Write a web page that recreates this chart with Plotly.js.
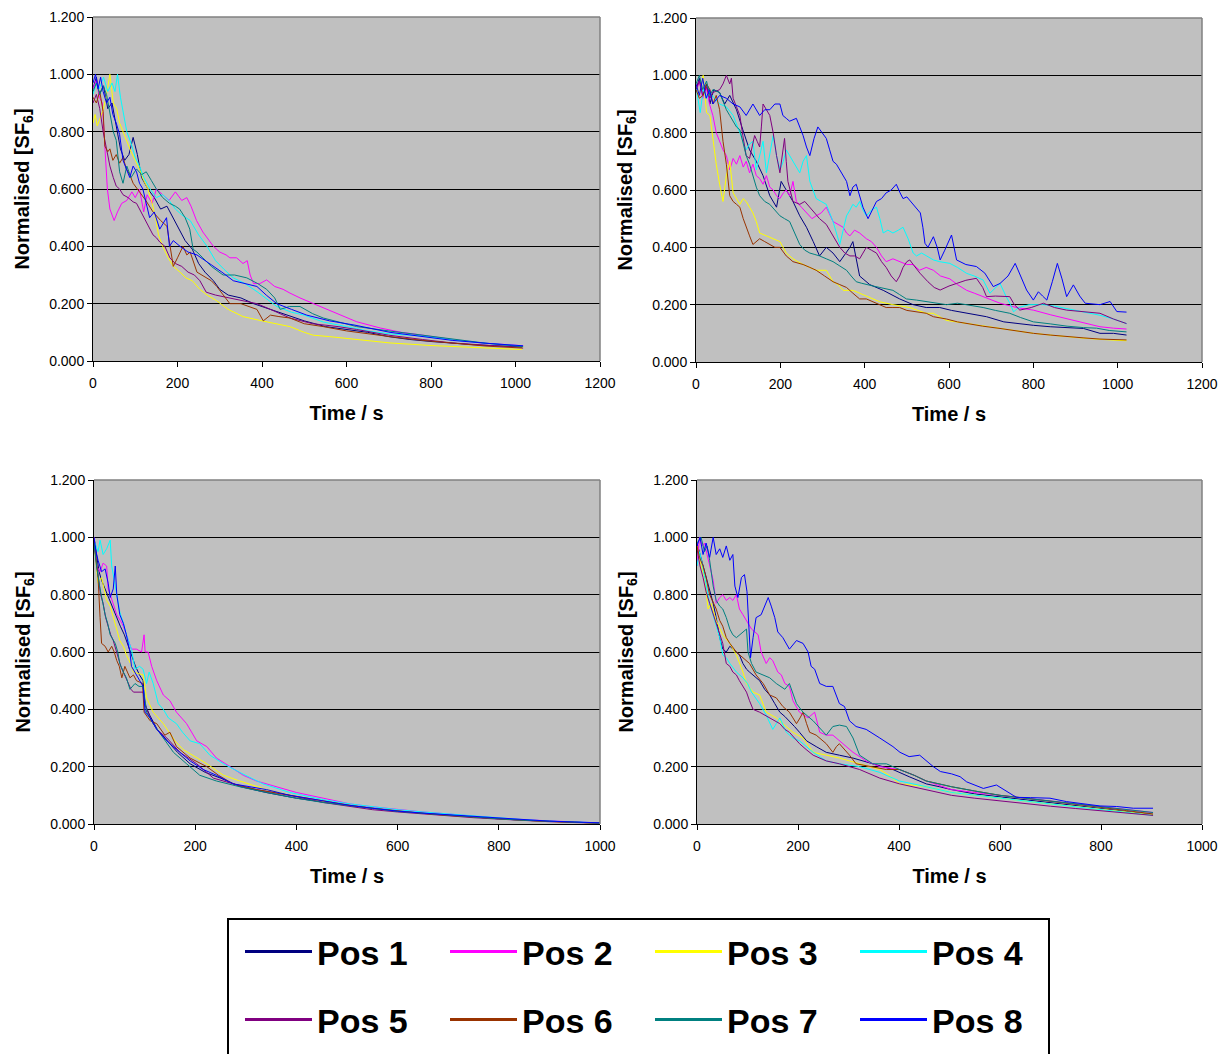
<!DOCTYPE html>
<html>
<head>
<meta charset="utf-8">
<script src="https://cdn.plot.ly/plotly-3.0.1.min.js"></script>
<style>html,body{margin:0;padding:0;background:#fff;}#chart{width:1229px;height:1054px;}</style>
</head>
<body>
<div id="chart"></div>
<script>
// ---------- Series labels and colours ----------
const seriesNames = ['Pos 1','Pos 2','Pos 3','Pos 4','Pos 5','Pos 6','Pos 7','Pos 8'];
const seriesColors = ['#000080','#FF00FF','#FFFF00','#00FFFF','#800080','#993300','#008080','#0000FF'];

// ---------- Axis tick values ----------
const yTicks = [0, 0.2, 0.4, 0.6, 0.8, 1.0, 1.2];
const xTicksTop = [0, 200, 400, 600, 800, 1000, 1200];
const xTicksBottom = [0, 200, 400, 600, 800, 1000];

// ---------- Top-left panel: [time s, normalised SF6] ----------
const TL1 = [[0,0.95],[8,0.99],[15,0.93],[25,0.96],[35,0.88],[45,0.9],[55,0.82],[65,0.74],[75,0.7],[85,0.72],[95,0.78],[105,0.72],[115,0.64],[130,0.6],[145,0.57],[160,0.53],[175,0.54],[190,0.5],[205,0.46],[218,0.42],[235,0.39],[250,0.34],[265,0.31],[285,0.28],[300,0.25],[320,0.23],[350,0.22],[380,0.2],[420,0.18],[460,0.16],[500,0.14],[550,0.12],[600,0.11],[650,0.1],[700,0.085],[750,0.075],[800,0.068],[850,0.062],[900,0.057],[950,0.053],[1015,0.05]];
const TL2 = [[0,0.95],[8,0.98],[15,0.92],[22,0.9],[28,0.75],[34,0.6],[40,0.53],[50,0.49],[58,0.52],[68,0.55],[80,0.56],[92,0.59],[100,0.57],[110,0.6],[120,0.52],[128,0.58],[140,0.55],[150,0.6],[165,0.58],[180,0.56],[195,0.59],[210,0.56],[222,0.57],[232,0.54],[245,0.49],[260,0.45],[275,0.42],[285,0.4],[300,0.38],[315,0.37],[324,0.36],[340,0.36],[355,0.34],[365,0.35],[372,0.3],[380,0.27],[395,0.27],[411,0.283],[430,0.26],[450,0.25],[466,0.237],[490,0.22],[530,0.195],[580,0.165],[624,0.137],[680,0.115],[730,0.1],[781,0.09],[850,0.075],[920,0.063],[970,0.057],[1018,0.053]];
const TL3 = [[0,0.83],[5,0.86],[10,0.82],[18,0.85],[25,0.88],[32,0.93],[40,1.0],[48,0.9],[56,0.88],[63,0.83],[71,0.8],[80,0.77],[90,0.73],[100,0.7],[110,0.67],[120,0.63],[130,0.6],[140,0.55],[148,0.5],[155,0.44],[165,0.4],[178,0.36],[190,0.33],[206,0.31],[220,0.29],[235,0.28],[253,0.25],[270,0.23],[293,0.21],[320,0.18],[355,0.155],[400,0.14],[430,0.13],[466,0.12],[500,0.1],[521,0.09],[560,0.085],[620,0.075],[703,0.063],[800,0.054],[870,0.049],[940,0.045],[1015,0.04]];
const TL4 = [[0,0.93],[8,0.97],[15,0.95],[25,0.99],[35,0.94],[45,0.97],[52,0.94],[58,1.0],[65,0.92],[72,0.86],[80,0.8],[90,0.76],[100,0.71],[110,0.68],[120,0.64],[135,0.6],[150,0.57],[165,0.58],[180,0.56],[195,0.53],[210,0.51],[230,0.49],[250,0.44],[270,0.4],[290,0.35],[310,0.32],[332,0.29],[360,0.27],[390,0.24],[435,0.19],[470,0.17],[500,0.16],[545,0.136],[600,0.12],[650,0.105],[700,0.095],[781,0.087],[850,0.074],[930,0.062],[1015,0.052]];
const TL5 = [[0,0.9],[8,0.93],[16,0.88],[24,0.8],[32,0.74],[40,0.68],[48,0.64],[55,0.61],[63,0.6],[71,0.58],[83,0.57],[95,0.555],[103,0.55],[110,0.53],[118,0.51],[126,0.485],[134,0.46],[142,0.44],[150,0.43],[158,0.415],[170,0.4],[182,0.36],[195,0.34],[210,0.33],[225,0.31],[240,0.3],[253,0.28],[268,0.24],[290,0.23],[324,0.22],[360,0.21],[388,0.2],[420,0.18],[466,0.15],[520,0.13],[580,0.12],[624,0.11],[700,0.09],[780,0.075],[850,0.063],[930,0.055],[1015,0.048]];
const TL6 = [[0,0.92],[8,0.9],[16,0.94],[24,0.87],[28,0.75],[35,0.73],[40,0.74],[47,0.7],[55,0.72],[63,0.69],[71,0.71],[79,0.67],[87,0.65],[95,0.62],[105,0.6],[115,0.58],[125,0.56],[142,0.52],[160,0.49],[175,0.47],[183,0.4],[190,0.33],[200,0.36],[213,0.4],[222,0.37],[230,0.38],[246,0.31],[258,0.3],[268,0.29],[280,0.28],[293,0.26],[308,0.23],[324,0.2],[350,0.2],[370,0.19],[388,0.18],[403,0.14],[420,0.16],[440,0.155],[466,0.15],[500,0.13],[545,0.12],[600,0.105],[650,0.095],[703,0.085],[780,0.072],[850,0.062],[930,0.052],[1018,0.045]];
const TL7 = [[0,0.94],[8,0.97],[16,0.93],[24,0.96],[32,0.93],[40,0.86],[48,0.8],[55,0.77],[63,0.66],[71,0.62],[80,0.68],[90,0.64],[103,0.67],[115,0.65],[126,0.66],[138,0.63],[150,0.6],[165,0.57],[181,0.55],[195,0.54],[205,0.53],[218,0.5],[229,0.46],[237,0.39],[246,0.38],[260,0.36],[280,0.33],[308,0.3],[335,0.3],[364,0.29],[390,0.27],[411,0.25],[430,0.22],[443,0.18],[465,0.19],[490,0.19],[520,0.165],[545,0.15],[585,0.135],[624,0.12],[700,0.105],[781,0.09],[850,0.075],[930,0.062],[1018,0.05]];
const TL8 = [[0,0.97],[6,1.0],[12,0.95],[18,0.99],[24,0.94],[32,0.9],[40,0.92],[47,0.86],[55,0.83],[63,0.79],[71,0.7],[79,0.67],[87,0.64],[95,0.68],[103,0.66],[110,0.62],[118,0.6],[126,0.55],[134,0.5],[145,0.52],[158,0.46],[166,0.48],[174,0.5],[181,0.4],[190,0.42],[206,0.4],[225,0.38],[246,0.37],[276,0.34],[305,0.31],[332,0.28],[360,0.27],[388,0.26],[410,0.23],[435,0.2],[470,0.18],[506,0.16],[560,0.14],[620,0.125],[703,0.1],[780,0.085],[850,0.072],[930,0.062],[1018,0.053]];

// ---------- Top-right panel ----------
const TR1 = [[0,0.95],[8,0.99],[16,0.93],[25,0.97],[33,0.9],[42,0.95],[56,0.94],[68,0.9],[80,0.93],[96,0.88],[111,0.81],[127,0.74],[143,0.7],[159,0.65],[175,0.58],[191,0.54],[202,0.63],[214,0.6],[230,0.56],[246,0.51],[262,0.47],[278,0.42],[293,0.37],[309,0.4],[325,0.38],[341,0.35],[355,0.38],[365,0.4],[372,0.42],[380,0.36],[388,0.3],[412,0.27],[444,0.25],[483,0.22],[515,0.2],[546,0.19],[578,0.19],[606,0.18],[642,0.17],[689,0.158],[730,0.14],[760,0.134],[800,0.128],[840,0.123],[880,0.12],[919,0.117],[958,0.1],[990,0.1],[1021,0.094]];
const TR2 = [[0,0.94],[8,0.98],[16,0.92],[24,0.96],[32,0.9],[40,0.86],[48,0.8],[56,0.77],[64,0.74],[72,0.72],[80,0.67],[88,0.71],[96,0.69],[104,0.72],[112,0.68],[119,0.7],[127,0.66],[135,0.69],[143,0.65],[151,0.64],[159,0.62],[167,0.65],[175,0.61],[183,0.6],[191,0.58],[199,0.57],[207,0.59],[214,0.6],[222,0.58],[230,0.63],[238,0.56],[250,0.54],[262,0.52],[275,0.5],[285,0.51],[297,0.52],[309,0.54],[318,0.51],[325,0.49],[337,0.48],[349,0.47],[357,0.45],[365,0.44],[376,0.46],[388,0.45],[396,0.44],[404,0.43],[416,0.42],[428,0.4],[440,0.37],[451,0.35],[467,0.36],[483,0.35],[500,0.34],[515,0.34],[530,0.32],[546,0.33],[563,0.32],[580,0.3],[602,0.29],[620,0.27],[642,0.25],[660,0.24],[681,0.228],[700,0.215],[721,0.205],[760,0.19],[800,0.181],[840,0.165],[879,0.152],[920,0.138],[958,0.123],[990,0.118],[1021,0.115]];
const TR3 = [[0,0.97],[8,0.93],[17,1.0],[25,0.87],[33,0.86],[40,0.77],[48,0.69],[56,0.62],[64,0.56],[72,0.65],[80,0.7],[88,0.59],[96,0.57],[104,0.55],[112,0.57],[119,0.56],[127,0.54],[135,0.52],[143,0.49],[151,0.45],[167,0.44],[183,0.43],[199,0.42],[214,0.38],[230,0.36],[254,0.34],[270,0.33],[285,0.32],[309,0.32],[325,0.28],[337,0.27],[349,0.25],[372,0.25],[388,0.24],[404,0.23],[436,0.21],[467,0.2],[507,0.19],[546,0.17],[563,0.17],[594,0.145],[642,0.134],[680,0.125],[721,0.117],[760,0.108],[800,0.1],[840,0.094],[879,0.088],[920,0.083],[958,0.079],[990,0.076],[1021,0.074]];
const TR4 = [[0,0.96],[5,0.92],[10,0.87],[17,0.95],[25,0.92],[32,0.94],[44,0.92],[56,0.9],[72,0.89],[88,0.86],[104,0.8],[119,0.74],[127,0.76],[135,0.77],[143,0.67],[151,0.72],[159,0.77],[167,0.66],[175,0.72],[183,0.79],[191,0.72],[199,0.67],[207,0.7],[214,0.74],[222,0.72],[230,0.7],[238,0.68],[246,0.66],[254,0.7],[262,0.72],[270,0.63],[278,0.6],[285,0.57],[297,0.56],[309,0.55],[317,0.52],[325,0.49],[333,0.45],[341,0.41],[349,0.46],[357,0.51],[365,0.53],[372,0.55],[380,0.54],[388,0.56],[396,0.53],[404,0.51],[416,0.53],[428,0.54],[436,0.5],[444,0.45],[455,0.46],[467,0.45],[480,0.46],[491,0.47],[503,0.43],[515,0.38],[523,0.37],[535,0.38],[547,0.37],[563,0.356],[578,0.35],[602,0.344],[620,0.33],[642,0.309],[660,0.3],[681,0.286],[697,0.24],[710,0.26],[721,0.274],[735,0.23],[746,0.2],[753,0.175],[765,0.19],[790,0.2],[824,0.2],[850,0.195],[879,0.187],[920,0.175],[958,0.163],[990,0.15],[1021,0.134]];
const TR5 = [[0,0.95],[8,0.98],[16,0.93],[25,0.96],[33,0.92],[40,0.94],[56,0.95],[64,0.97],[72,1.0],[80,0.97],[84,0.99],[88,0.92],[96,0.89],[104,0.86],[111,0.79],[119,0.72],[127,0.71],[133,0.75],[139,0.79],[145,0.77],[151,0.75],[155,0.82],[159,0.9],[167,0.88],[175,0.86],[183,0.8],[191,0.72],[199,0.66],[205,0.72],[210,0.78],[214,0.7],[218,0.63],[230,0.56],[246,0.55],[258,0.56],[270,0.54],[282,0.52],[293,0.5],[309,0.48],[325,0.44],[333,0.42],[341,0.4],[353,0.38],[365,0.37],[376,0.37],[388,0.36],[396,0.38],[404,0.4],[416,0.39],[428,0.38],[440,0.35],[451,0.33],[463,0.3],[475,0.28],[483,0.3],[491,0.33],[500,0.35],[507,0.356],[515,0.34],[531,0.31],[550,0.28],[565,0.26],[579,0.251],[600,0.265],[618,0.274],[640,0.285],[665,0.292],[680,0.26],[689,0.228],[710,0.23],[744,0.228],[755,0.2],[768,0.181],[795,0.19],[824,0.205],[850,0.19],[879,0.181],[920,0.175],[958,0.17],[990,0.15],[1021,0.134]];
const TR6 = [[0,0.95],[8,0.92],[17,0.93],[25,0.97],[33,0.95],[40,0.9],[48,0.93],[56,0.88],[64,0.77],[72,0.69],[80,0.58],[88,0.56],[96,0.55],[104,0.54],[112,0.5],[119,0.47],[127,0.44],[135,0.41],[143,0.42],[151,0.43],[163,0.42],[175,0.41],[187,0.4],[199,0.4],[214,0.37],[230,0.35],[254,0.34],[270,0.33],[285,0.32],[305,0.3],[325,0.28],[341,0.27],[357,0.26],[372,0.24],[388,0.22],[404,0.22],[420,0.21],[436,0.2],[451,0.19],[467,0.19],[483,0.19],[500,0.18],[520,0.175],[546,0.17],[563,0.158],[594,0.15],[620,0.14],[642,0.134],[680,0.125],[721,0.117],[760,0.108],[800,0.1],[840,0.094],[879,0.088],[920,0.084],[958,0.08],[990,0.078],[1021,0.077]];
const TR7 = [[0,0.97],[8,1.0],[16,0.95],[25,0.98],[33,0.93],[40,0.95],[56,0.94],[64,0.91],[72,0.88],[80,0.86],[88,0.84],[96,0.82],[104,0.81],[111,0.77],[119,0.72],[127,0.69],[135,0.65],[143,0.61],[151,0.58],[163,0.56],[175,0.55],[187,0.53],[199,0.51],[210,0.5],[222,0.49],[234,0.45],[246,0.41],[258,0.39],[270,0.38],[282,0.375],[293,0.37],[309,0.36],[325,0.35],[341,0.335],[357,0.32],[368,0.3],[380,0.28],[392,0.275],[404,0.27],[420,0.265],[436,0.26],[451,0.255],[467,0.25],[483,0.235],[499,0.22],[523,0.216],[546,0.21],[570,0.205],[594,0.2],[620,0.205],[642,0.2],[660,0.195],[681,0.19],[710,0.18],[744,0.17],[770,0.155],[800,0.14],[840,0.133],[880,0.125],[919,0.12],[950,0.118],[980,0.11],[1021,0.105]];
const TR8 = [[0,0.97],[8,0.93],[16,0.99],[24,0.92],[32,0.95],[40,0.9],[56,0.93],[72,0.92],[88,0.9],[104,0.89],[119,0.86],[135,0.9],[151,0.86],[163,0.88],[175,0.88],[187,0.9],[199,0.9],[206,0.86],[214,0.85],[222,0.84],[238,0.85],[246,0.82],[254,0.79],[262,0.75],[270,0.72],[280,0.78],[289,0.82],[299,0.8],[309,0.78],[317,0.74],[325,0.7],[333,0.69],[341,0.67],[349,0.65],[357,0.63],[365,0.58],[372,0.61],[380,0.62],[388,0.58],[396,0.54],[408,0.5],[418,0.53],[428,0.56],[440,0.57],[451,0.59],[463,0.6],[475,0.62],[484,0.59],[491,0.57],[500,0.576],[515,0.55],[532,0.52],[538,0.47],[543,0.414],[550,0.4],[556,0.42],[563,0.437],[572,0.4],[579,0.356],[590,0.39],[600,0.42],[606,0.443],[612,0.4],[618,0.356],[640,0.34],[665,0.333],[685,0.31],[705,0.263],[721,0.274],[740,0.3],[757,0.344],[770,0.3],[784,0.251],[800,0.216],[812,0.245],[822,0.23],[832,0.216],[845,0.28],[857,0.344],[868,0.29],[879,0.228],[895,0.269],[910,0.23],[923,0.205],[958,0.2],[982,0.211],[998,0.176],[1021,0.174]];

// ---------- Bottom-left panel ----------
const BL1 = [[0,1.0],[5,0.93],[10,0.88],[15,0.85],[22,0.82],[30,0.78],[38,0.75],[45,0.72],[52,0.69],[60,0.66],[68,0.62],[75,0.58],[82,0.55],[90,0.52],[97,0.5],[100,0.42],[110,0.38],[125,0.33],[145,0.29],[165,0.25],[190,0.21],[220,0.18],[250,0.16],[290,0.13],[340,0.11],[400,0.09],[460,0.075],[500,0.065],[550,0.055],[600,0.045],[650,0.038],[700,0.03],[750,0.024],[800,0.018],[850,0.013],[900,0.009],[950,0.006],[1000,0.003]];
const BL2 = [[0,1.0],[3,0.95],[5,0.9],[12,0.88],[18,0.91],[25,0.9],[28,0.82],[32,0.8],[38,0.77],[45,0.73],[52,0.71],[58,0.69],[64,0.66],[70,0.63],[74,0.61],[84,0.61],[94,0.6],[99,0.66],[101,0.6],[107,0.6],[114,0.55],[124,0.5],[137,0.45],[150,0.43],[163,0.39],[183,0.35],[203,0.29],[223,0.27],[242,0.23],[269,0.2],[295,0.17],[321,0.15],[361,0.13],[400,0.11],[453,0.09],[506,0.07],[550,0.06],[600,0.05],[650,0.042],[700,0.035],[750,0.027],[800,0.02],[850,0.015],[900,0.01],[950,0.007],[1000,0.004]];
const BL3 = [[0,0.98],[4,0.9],[8,0.84],[15,0.86],[20,0.82],[25,0.78],[32,0.76],[42,0.7],[51,0.64],[58,0.62],[64,0.59],[72,0.56],[78,0.53],[88,0.525],[97,0.52],[104,0.44],[117,0.39],[137,0.35],[160,0.29],[176,0.26],[203,0.23],[223,0.21],[256,0.17],[288,0.15],[341,0.12],[400,0.095],[450,0.08],[506,0.065],[550,0.055],[600,0.045],[650,0.037],[700,0.03],[750,0.024],[800,0.018],[850,0.013],[900,0.009],[950,0.006],[1000,0.003]];
const BL4 = [[0,0.96],[2,0.98],[8,0.95],[12,0.99],[18,0.94],[25,0.96],[32,0.99],[35,0.9],[40,0.85],[45,0.8],[51,0.74],[58,0.7],[64,0.66],[74,0.61],[81,0.54],[90,0.55],[97,0.54],[104,0.49],[109,0.53],[117,0.49],[127,0.42],[137,0.4],[147,0.37],[163,0.35],[175,0.32],[190,0.29],[209,0.28],[229,0.24],[256,0.21],[288,0.18],[334,0.14],[387,0.11],[453,0.085],[506,0.07],[550,0.06],[600,0.05],[650,0.042],[700,0.035],[750,0.027],[800,0.02],[850,0.015],[900,0.01],[950,0.007],[1000,0.004]];
const BL5 = [[0,0.98],[4,0.92],[8,0.86],[13,0.8],[18,0.77],[23,0.72],[28,0.69],[33,0.66],[38,0.64],[43,0.61],[48,0.58],[53,0.55],[58,0.53],[63,0.51],[68,0.49],[73,0.47],[78,0.46],[91,0.46],[97,0.46],[104,0.4],[114,0.36],[124,0.33],[144,0.3],[170,0.25],[203,0.21],[236,0.16],[275,0.14],[321,0.12],[387,0.1],[453,0.075],[506,0.06],[550,0.05],[600,0.042],[650,0.035],[700,0.028],[750,0.022],[800,0.017],[850,0.012],[900,0.008],[950,0.005],[1000,0.003]];
const BL6 = [[0,0.99],[4,0.92],[8,0.86],[12,0.72],[15,0.63],[22,0.62],[28,0.6],[35,0.62],[40,0.6],[45,0.57],[50,0.55],[55,0.51],[61,0.55],[66,0.53],[71,0.51],[78,0.52],[84,0.5],[90,0.495],[96,0.49],[99,0.39],[111,0.36],[124,0.35],[140,0.31],[150,0.32],[163,0.27],[190,0.23],[223,0.2],[246,0.17],[275,0.14],[321,0.12],[387,0.1],[453,0.08],[506,0.065],[550,0.055],[600,0.045],[650,0.037],[700,0.03],[750,0.024],[800,0.018],[850,0.013],[900,0.009],[950,0.006],[1000,0.003]];
const BL7 = [[0,0.98],[5,0.9],[12,0.82],[18,0.76],[22,0.73],[27,0.7],[32,0.66],[37,0.645],[42,0.63],[47,0.6],[51,0.56],[58,0.53],[64,0.51],[71,0.47],[81,0.49],[89,0.48],[97,0.48],[104,0.39],[117,0.35],[137,0.3],[157,0.25],[183,0.21],[209,0.17],[242,0.15],[288,0.13],[341,0.11],[400,0.09],[453,0.075],[506,0.065],[550,0.055],[600,0.044],[650,0.037],[700,0.03],[750,0.024],[800,0.018],[850,0.013],[900,0.009],[950,0.006],[1000,0.003]];
const BL8 = [[0,1.0],[4,0.95],[8,0.92],[15,0.88],[22,0.89],[28,0.84],[32,0.79],[38,0.82],[42,0.9],[45,0.8],[51,0.73],[58,0.7],[64,0.66],[71,0.6],[74,0.55],[84,0.52],[97,0.48],[101,0.39],[111,0.37],[124,0.33],[144,0.29],[163,0.26],[190,0.22],[216,0.19],[242,0.17],[275,0.14],[341,0.12],[387,0.1],[453,0.08],[506,0.065],[550,0.055],[600,0.045],[650,0.038],[700,0.032],[750,0.026],[800,0.02],[850,0.015],[900,0.01],[950,0.007],[1000,0.004]];

// ---------- Bottom-right panel ----------
const BR1 = [[0,0.98],[6,0.94],[12,0.9],[18,0.86],[25,0.82],[32,0.77],[38,0.72],[45,0.65],[51,0.61],[58,0.6],[65,0.62],[71,0.61],[78,0.6],[84,0.59],[91,0.56],[98,0.54],[104,0.53],[111,0.52],[124,0.5],[134,0.47],[144,0.45],[154,0.42],[164,0.39],[174,0.375],[183,0.36],[193,0.34],[203,0.32],[217,0.29],[236,0.27],[256,0.25],[282,0.24],[309,0.23],[348,0.21],[388,0.19],[420,0.165],[454,0.14],[480,0.13],[504,0.12],[550,0.105],[600,0.095],[650,0.085],[700,0.075],[750,0.065],[800,0.055],[850,0.045],[903,0.033]];
const BR2 = [[0,0.9],[5,1.0],[10,0.97],[15,0.98],[20,0.94],[25,0.9],[32,0.85],[38,0.77],[45,0.79],[51,0.8],[58,0.78],[65,0.79],[71,0.78],[78,0.8],[84,0.75],[91,0.73],[98,0.71],[108,0.68],[121,0.66],[127,0.6],[137,0.56],[144,0.58],[150,0.57],[160,0.53],[167,0.52],[174,0.49],[183,0.48],[190,0.43],[203,0.39],[212,0.38],[220,0.37],[233,0.39],[243,0.32],[256,0.31],[269,0.31],[289,0.28],[309,0.25],[335,0.22],[362,0.2],[401,0.19],[430,0.17],[454,0.15],[480,0.135],[504,0.12],[550,0.11],[600,0.1],[650,0.09],[700,0.08],[750,0.07],[800,0.06],[850,0.05],[903,0.04]];
const BR3 = [[0,0.97],[5,0.92],[10,0.89],[15,0.86],[22,0.75],[28,0.77],[38,0.71],[51,0.66],[65,0.63],[78,0.59],[91,0.53],[98,0.49],[111,0.46],[124,0.45],[137,0.39],[157,0.37],[170,0.35],[190,0.32],[210,0.3],[230,0.25],[256,0.24],[282,0.23],[322,0.21],[362,0.19],[380,0.17],[401,0.14],[430,0.135],[454,0.13],[504,0.11],[550,0.1],[600,0.09],[650,0.08],[700,0.07],[750,0.061],[800,0.052],[850,0.042],[903,0.032]];
const BR4 = [[0,0.9],[5,0.95],[10,0.91],[15,0.86],[20,0.81],[25,0.77],[35,0.71],[45,0.65],[51,0.59],[58,0.58],[65,0.56],[78,0.53],[91,0.51],[100,0.49],[108,0.46],[116,0.44],[124,0.42],[137,0.38],[150,0.33],[157,0.35],[164,0.37],[177,0.32],[190,0.3],[203,0.29],[216,0.27],[230,0.25],[256,0.22],[282,0.21],[322,0.2],[362,0.18],[401,0.15],[430,0.14],[454,0.13],[504,0.11],[550,0.1],[600,0.09],[650,0.08],[700,0.07],[750,0.06],[800,0.05],[850,0.04],[903,0.03]];
const BR5 = [[0,0.96],[6,0.9],[12,0.86],[18,0.81],[25,0.77],[32,0.73],[38,0.7],[45,0.66],[51,0.63],[58,0.56],[65,0.55],[71,0.53],[78,0.52],[84,0.5],[91,0.48],[98,0.46],[104,0.43],[111,0.4],[124,0.39],[134,0.38],[144,0.37],[154,0.36],[164,0.35],[174,0.33],[183,0.32],[193,0.3],[203,0.28],[216,0.26],[230,0.24],[256,0.22],[282,0.21],[322,0.19],[362,0.16],[401,0.14],[454,0.12],[504,0.1],[550,0.09],[600,0.08],[650,0.071],[700,0.062],[750,0.054],[800,0.047],[850,0.038],[903,0.03]];
const BR6 = [[0,0.97],[5,0.93],[12,0.9],[18,0.86],[25,0.8],[32,0.77],[38,0.75],[45,0.71],[51,0.69],[58,0.65],[65,0.63],[78,0.6],[91,0.58],[104,0.56],[117,0.52],[131,0.49],[144,0.45],[157,0.44],[170,0.41],[183,0.39],[190,0.37],[197,0.35],[204,0.37],[210,0.39],[217,0.35],[223,0.32],[236,0.31],[256,0.28],[269,0.25],[276,0.27],[282,0.28],[292,0.26],[302,0.24],[315,0.21],[342,0.2],[375,0.19],[401,0.19],[430,0.17],[454,0.15],[480,0.14],[504,0.13],[550,0.115],[600,0.1],[650,0.09],[700,0.08],[750,0.07],[800,0.058],[850,0.047],[903,0.035]];
const BR7 = [[0,0.98],[8,1.0],[15,0.95],[20,0.97],[25,0.92],[32,0.83],[38,0.78],[45,0.76],[51,0.75],[58,0.72],[65,0.68],[71,0.66],[78,0.65],[84,0.66],[91,0.67],[98,0.68],[101,0.6],[108,0.56],[117,0.53],[131,0.52],[144,0.51],[157,0.49],[174,0.47],[183,0.49],[197,0.42],[210,0.39],[230,0.36],[256,0.31],[269,0.34],[282,0.345],[296,0.34],[309,0.3],[322,0.24],[348,0.21],[375,0.21],[401,0.19],[430,0.17],[454,0.15],[480,0.14],[504,0.13],[550,0.115],[600,0.1],[650,0.09],[700,0.08],[750,0.07],[800,0.06],[850,0.05],[903,0.04]];
const BR8 = [[0,0.97],[6,1.0],[12,0.94],[18,0.98],[25,0.93],[32,1.0],[38,0.94],[45,0.96],[51,0.93],[58,0.97],[65,0.92],[71,0.94],[75,0.83],[81,0.79],[88,0.86],[94,0.87],[99,0.81],[103,0.67],[106,0.58],[111,0.65],[117,0.72],[127,0.73],[134,0.76],[141,0.79],[147,0.76],[154,0.72],[160,0.67],[170,0.65],[183,0.61],[197,0.64],[210,0.63],[220,0.6],[226,0.55],[233,0.54],[243,0.49],[256,0.48],[269,0.48],[282,0.42],[292,0.41],[302,0.36],[315,0.34],[335,0.33],[362,0.3],[388,0.27],[402,0.25],[420,0.235],[441,0.24],[468,0.2],[482,0.183],[504,0.175],[521,0.165],[534,0.147],[567,0.124],[593,0.136],[626,0.1],[633,0.093],[660,0.092],[699,0.09],[732,0.078],[765,0.07],[798,0.063],[831,0.061],[864,0.055],[903,0.055]];

// ---------- Build ----------
const panels = [
  {xa:'x',  ya:'y',  series:[TL1,TL2,TL3,TL4,TL5,TL6,TL7,TL8]},
  {xa:'x2', ya:'y2', series:[TR1,TR2,TR3,TR4,TR5,TR6,TR7,TR8]},
  {xa:'x3', ya:'y3', series:[BL1,BL2,BL3,BL4,BL5,BL6,BL7,BL8]},
  {xa:'x4', ya:'y4', series:[BR1,BR2,BR3,BR4,BR5,BR6,BR7,BR8]}
];

const traces = [];
panels.forEach(p => {
  p.series.forEach((s, i) => {
    traces.push({
      type:'scatter', mode:'lines', xaxis:p.xa, yaxis:p.ya,
      x: s.map(d => d[0]), y: s.map(d => d[1]),
      name: seriesNames[i], showlegend:false, hoverinfo:'skip',
      line:{color:seriesColors[i], width:1}
    });
  });
});
// legend entries (two rows, as in the original key)
seriesNames.forEach((n, i) => {
  traces.push({
    type:'scatter', mode:'lines', xaxis:'x', yaxis:'y', x:[null], y:[null],
    name:'<b>' + n + '</b>', showlegend:true, legend: i < 4 ? 'legend' : 'legend2',
    line:{color:seriesColors[i], width:3}
  });
});

const FONT = 'Arial, "Liberation Sans", sans-serif';
const W = 1229, H = 1054;
function xd(a,b){return [a/W, b/W];}
function yd(top,bottom){return [1-bottom/H, 1-top/H];}

function yAxis(dom, anchor){
  return {domain:dom, anchor:anchor, range:[0,1.2], tickvals:yTicks, tickformat:'.3f',
    showgrid:true, gridcolor:'#000000', gridwidth:1, zeroline:false,
    showline:true, linecolor:'#000000', linewidth:1, ticks:'outside', ticklen:5, tickcolor:'#000000',
    tickfont:{family:FONT, size:14, color:'#000'},
    title:{text:'<b>Normalised [SF<sub>6</sub>]</b>', font:{family:FONT, size:20, color:'#000'}, standoff:14},
    automargin:false, fixedrange:true};
}
function xAxis(dom, anchor, max, ticks){
  return {domain:dom, anchor:anchor, range:[0,max], tickvals:ticks,
    showgrid:false, zeroline:false,
    showline:true, linecolor:'#000000', linewidth:1, ticks:'outside', ticklen:5, tickcolor:'#000000',
    ticklabelstandoff:4,
    tickfont:{family:FONT, size:14, color:'#000'},
    title:{text:'<b>Time / s</b>', font:{family:FONT, size:20, color:'#000'}, standoff:16},
    automargin:false, fixedrange:true};
}

const frameShapes = [];
['x','x2','x3','x4'].forEach((xa, k) => {
  const ya = ['y','y2','y3','y4'][k];
  frameShapes.push({type:'line', xref:xa+' domain', yref:ya+' domain', x0:0, x1:1, y0:1, y1:1, line:{color:'#808080', width:1.5}, layer:'above'});
  frameShapes.push({type:'line', xref:xa+' domain', yref:ya+' domain', x0:1, x1:1, y0:0, y1:1, line:{color:'#808080', width:1.5}, layer:'above'});
});
// legend box
frameShapes.push({type:'rect', xref:'paper', yref:'paper', x0:228/W, x1:1049/W, y0:-0.05, y1:1-919/H,
  line:{color:'#000', width:2}, fillcolor:'#ffffff', layer:'below'});

const legendCommon = {orientation:'h', xanchor:'left', yanchor:'middle', bgcolor:'rgba(0,0,0,0)', borderwidth:0,
  font:{family:FONT, size:34, color:'#000'}, entrywidth:123, entrywidthmode:'pixels', itemwidth:67,
  itemclick:false, itemdoubleclick:false};

const layout = {
  width:W, height:H, margin:{l:0,r:0,t:0,b:0,pad:0,autoexpand:false},
  paper_bgcolor:'#ffffff', plot_bgcolor:'#C0C0C0',
  font:{family:FONT, color:'#000'},
  showlegend:true,
  xaxis: xAxis(xd(93,600), 'y', 1200, xTicksTop),
  yaxis: yAxis(yd(17,361), 'x'),
  xaxis2: xAxis(xd(696,1202), 'y2', 1200, xTicksTop),
  yaxis2: yAxis(yd(18,362), 'x2'),
  xaxis3: xAxis(xd(94,600), 'y3', 1000, xTicksBottom),
  yaxis3: yAxis(yd(480,824), 'x3'),
  xaxis4: xAxis(xd(697,1202), 'y4', 1000, xTicksBottom),
  yaxis4: yAxis(yd(480,824), 'x4'),
  legend: Object.assign({}, legendCommon, {x:240/W, y:1-952/H}),
  legend2: Object.assign({}, legendCommon, {x:240/W, y:1-1020/H}),
  shapes: frameShapes
};

Plotly.newPlot('chart', traces, layout, {displayModeBar:false, staticPlot:true});
</script>
</body>
</html>
